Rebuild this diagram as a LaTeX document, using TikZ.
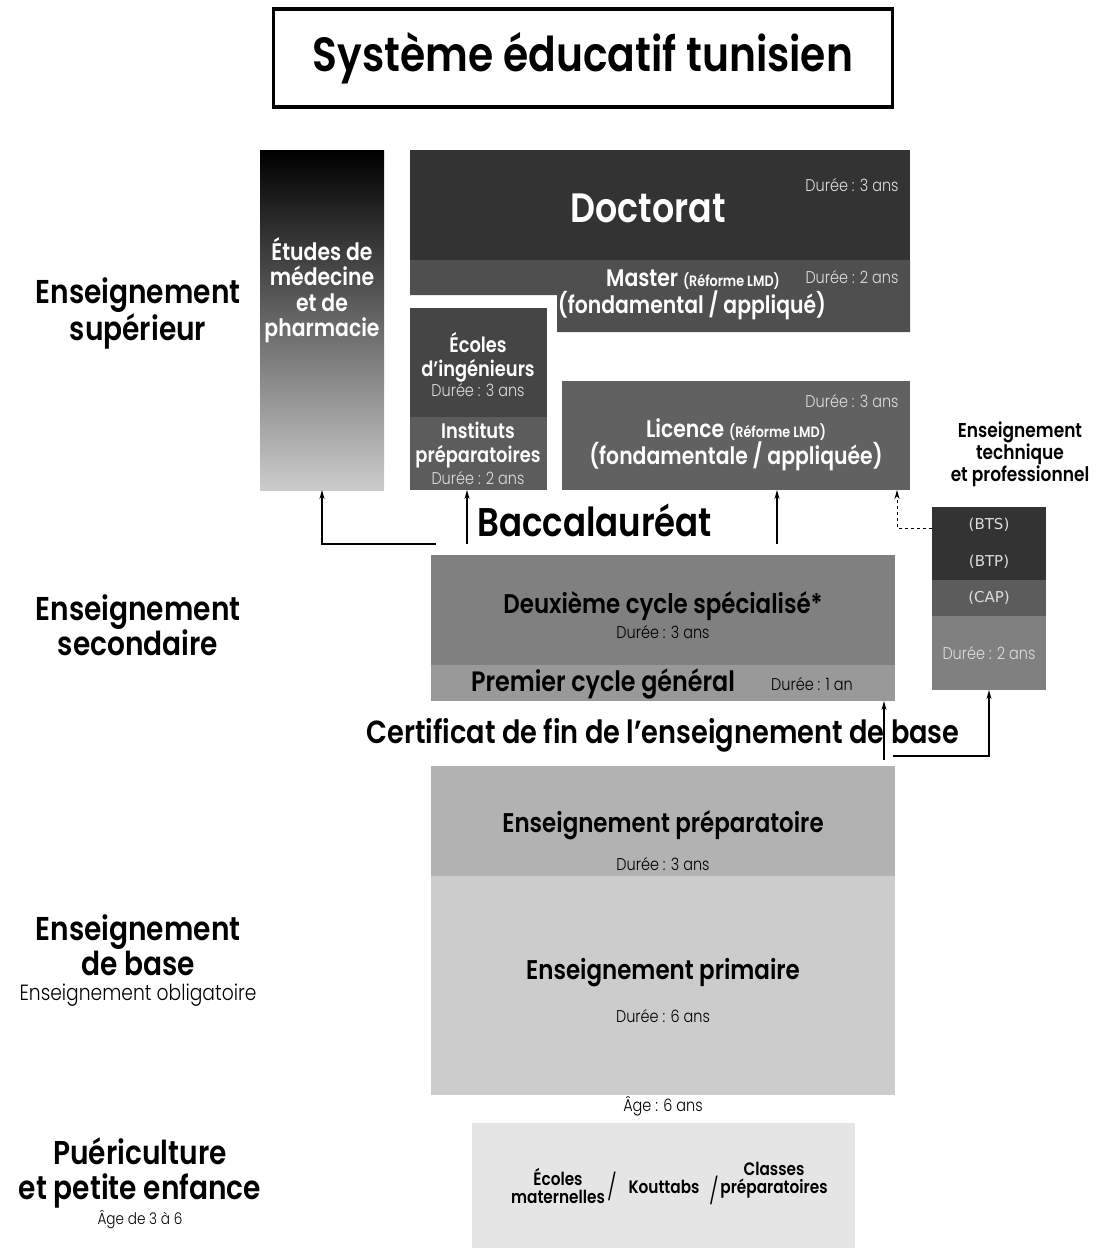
\documentclass[tikz,border=0pt]{standalone}
\usepackage{fontspec}
\setmainfont{Poppins}[FakeStretch=0.85, BoldFont={Poppins SemiBold}]
\newfontfamily\lightf{Poppins Light}[FakeStretch=0.85]
\newfontfamily\dvsans{DejaVu Sans}
\usetikzlibrary{positioning,arrows.meta}

\definecolor{gDoc}{gray}{0.20}
\definecolor{gMas}{gray}{0.31}
\definecolor{gIng}{gray}{0.27}
\definecolor{gIns}{gray}{0.36}
\definecolor{gLic}{gray}{0.38}
\definecolor{gDeux}{gray}{0.50}
\definecolor{gPrem}{gray}{0.60}
\definecolor{gPrep}{gray}{0.70}
\definecolor{gPrim}{gray}{0.80}
\definecolor{gPetit}{gray}{0.90}
\definecolor{gDur}{gray}{0.87}

\newcommand\fsz[2]{\fontsize{#1}{#2}\selectfont}

\tikzset{
  blk/.style={anchor=north west, inner sep=0pt, outer sep=0pt},
  sect/.style={align=center, font=\bfseries\fsz{33}{35}},
  wt/.style={align=center, text=white, inner sep=0pt},
  dur/.style={inner sep=0pt, font=\lightf\fsz{17}{19}},
  arr/.style={-{Stealth[length=9pt,width=5pt]}, line width=1.4pt},
}

\begin{document}
\begin{tikzpicture}[x=1pt,y=-1pt]
\useasboundingbox (0,0) rectangle (1102,1249);

% title
\node[draw, line width=3.5pt, minimum width=619pt, minimum height=98pt,
      font=\bfseries\fsz{48}{52}] (title) at (583,58) {Système éducatif tunisien};

% section labels on the left
\node[sect] (sup) at (138,313) {Enseignement\\supérieur};
\node[sect] (sec) at (138,625) {Enseignement\\secondaire};
\node[sect] (base) at (138,945) {Enseignement\\de base};
\node[font=\lightf\fsz{22}{24}] (oblig) at (138,995) {Enseignement obligatoire};
\node[sect] (puer) at (140,1173) {Puériculture\\et petite enfance};
\node[font=\lightf\fsz{16}{18}] (age36) at (140,1220) {Âge de 3 à 6};

% enseignement superieur
\node[blk, top color=black, bottom color=gPrim, minimum width=124pt, minimum height=339pt] (med) at (260,151) {};
\node[wt, font=\bfseries\fsz{24}{25.5}] (medt) at (322,290) {Études de\\médecine\\et de\\pharmacie};

\node[blk, fill=gDoc, minimum width=500pt, minimum height=110pt] (doc) at (410,150) {};
\node[wt, font=\bfseries\fsz{41}{45}] (doct) at (648,208) {Doctorat};
\node[dur, text=gDur] (docd) at (852,185) {Durée : 3 ans};

\fill[gMas] (410,260) -- (910,260) -- (910,332) -- (557,332) -- (557,295) -- (410,295) -- cycle;
\node[wt, font=\bfseries\fsz{24}{26}] (mast) at (693,280) {Master {\fsz{15}{17}(Réforme LMD)}};
\node[dur, text=gDur] (masd) at (852,277) {Durée : 2 ans};
\node[wt, font=\bfseries\fsz{24}{26}] (masf) at (692,305) {(fondamental / appliqué)};

\node[blk, fill=gIng, minimum width=137pt, minimum height=109pt] (ing) at (410,308) {};
\node[wt, font=\bfseries\fsz{21}{24}] (ingt) at (478,357) {Écoles\\d'ingénieurs};
\node[dur, text=gDur] (ingd) at (478,390) {Durée : 3 ans};

\node[blk, fill=gIns, minimum width=137pt, minimum height=73pt] (ip) at (410,417) {};
\node[wt, font=\bfseries\fsz{21}{24}] (ipt) at (478,445) {Instituts\\préparatoires};
\node[dur, text=gDur] (ipd) at (478,478) {Durée : 2 ans};

\node[blk, fill=gLic, minimum width=348pt, minimum height=109pt] (lic) at (562,381) {};
\node[dur, text=gDur] (licd) at (852,401) {Durée : 3 ans};
\node[wt, font=\bfseries\fsz{24}{26}] (lict) at (736,430) {Licence {\fsz{15}{17}(Réforme LMD)}};
\node[wt, font=\bfseries\fsz{24}{26}] (licf) at (736,456) {(fondamentale / appliquée)};

% baccalaureat
\node[anchor=west, inner sep=0pt, font=\bfseries\fsz{40}{42}] (bac) at (477,520) {Baccalauréat};
\coordinate (bacL) at (436,544);
\coordinate (bacM) at (467,544);
\coordinate (bacR) at (777,544);
\draw[arr] (bacL) -| (med.south);
\draw[arr] (bacM) -- (bacM |- ip.south);
\draw[arr] (bacR) -- (bacR |- lic.south);

% enseignement technique
\node[align=center, font=\bfseries\fsz{20}{22}] (tech) at (1020,454) {Enseignement\\technique\\et professionnel};
\node[blk, fill=gDoc, minimum width=114pt, minimum height=73pt] (bts) at (932,507) {};
\node[blk, fill=gIns, minimum width=114pt, minimum height=36pt] (cap) at (932,580) {};
\node[blk, fill=gDeux, minimum width=114pt, minimum height=74pt] (tdur) at (932,616) {};
\node[text=gDur, font=\dvsans\fsz{15}{17}] (btst) at (989,525) {(BTS)};
\node[text=gDur, font=\dvsans\fsz{15}{17}] (btpt) at (989,562) {(BTP)};
\node[text=gDur, font=\dvsans\fsz{15}{17}] (capt) at (989,598) {(CAP)};
\node[dur, text=gDur] (tdurt) at (989,653) {Durée : 2 ans};
\coordinate (tdash) at (932,528);
\draw[arr, dashed, line width=1pt] (tdash) -| ([xshift=-13pt]lic.south east);

% enseignement secondaire
\node[blk, fill=gDeux, minimum width=464pt, minimum height=110pt] (deux) at (431,555) {};
\node[font=\bfseries\fsz{27}{29}] (deuxt) at (663,606) {Deuxième cycle spécialisé*};
\node[dur] (deuxd) at (663,632) {Durée : 3 ans};
\node[blk, fill=gPrem, minimum width=464pt, minimum height=36pt] (prem) at (431,665) {};
\node[font=\bfseries\fsz{28}{30}] (premt) at (603,684) {Premier cycle général};
\node[dur] (premd) at (812,684) {Durée : 1 an};

% certificat
\node[font=\bfseries\fsz{32}{34}] (cert) at (663,735) {Certificat de fin de l'enseignement de base};
\coordinate (certA) at (884,760);
\coordinate (certB) at (893,756);
\draw[arr] (certA) -- (certA |- prem.south);
\draw[arr] (certB) -| (tdur.south);

% enseignement de base
\node[blk, fill=gPrep, minimum width=464pt, minimum height=110pt] (prep) at (431,766) {};
\node[font=\bfseries\fsz{27}{29}] (prept) at (663,825) {Enseignement préparatoire};
\node[dur] (prepd) at (663,864) {Durée : 3 ans};
\node[blk, fill=gPrim, minimum width=464pt, minimum height=219pt] (prim) at (431,876) {};
\node[font=\bfseries\fsz{27}{29}] (primt) at (663,973) {Enseignement primaire};
\node[dur] (primd) at (663,1016) {Durée : 6 ans};
\node[dur] (age6) at (663,1106) {Âge : 6 ans};

% petite enfance
\node[blk, fill=gPetit, minimum width=383pt, minimum height=125pt] (petit) at (472,1123) {};
\node[align=center, font=\bfseries\fsz{18}{18}] (mat) at (558,1186) {Écoles\\maternelles};
\node[font=\lightf\fsz{26}{26}] (sl1) at (612,1186) {/};
\node[font=\bfseries\fsz{18}{18}] (kou) at (664,1187) {Kouttabs};
\node[font=\lightf\fsz{26}{26}] (sl2) at (714,1190) {/};
\node[align=center, font=\bfseries\fsz{18}{18}] (cla) at (774,1180) {Classes\\préparatoires};
\end{tikzpicture}
\end{document}
